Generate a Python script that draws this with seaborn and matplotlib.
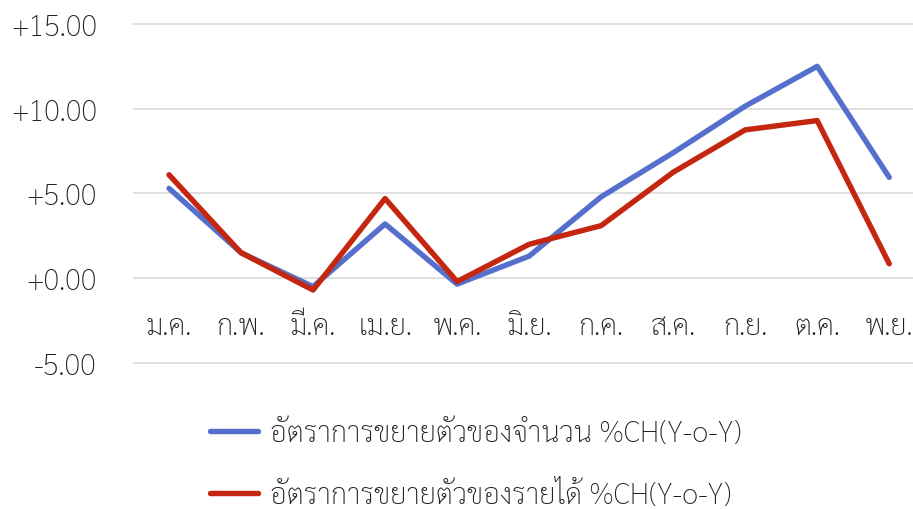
import matplotlib
matplotlib.use("Agg")
import matplotlib.pyplot as plt
from matplotlib.ticker import FuncFormatter
import pandas as pd
import seaborn as sns

# --------------------------------------------------------------------------- #
# Data
# --------------------------------------------------------------------------- #
months = ["ม.ค.", "ก.พ.", "มี.ค.", "เม.ย.", "พ.ค.", "มิ.ย.",
          "ก.ค.", "ส.ค.", "ก.ย.", "ต.ค.", "พ.ย."]
count_growth = [5.3, 1.5, -0.5, 3.2, -0.35, 1.3, 4.8, 7.4, 10.15, 12.5, 5.95]
income_growth = [6.1, 1.5, -0.7, 4.7, -0.2, 2.0, 3.1, 6.25, 8.75, 9.3, 0.85]
series_names = ["อัตราการขยายตัวของจำนวน %CH(Y-o-Y)",
                "อัตราการขยายตัวของรายได้ %CH(Y-o-Y)"]
y_ticks = [-5, 0, 5, 10, 15]

colors = ["#5470CC", "#C4260F"]

df = pd.DataFrame({
    "month": months * 2,
    "x": list(range(len(months))) * 2,
    "value": count_growth + income_growth,
    "series": [series_names[0]] * len(months) + [series_names[1]] * len(months),
})

# --------------------------------------------------------------------------- #
# Plot
# --------------------------------------------------------------------------- #
sns.set_theme(style="white")
plt.rcParams["font.family"] = ["Sarabun", "DejaVu Sans"]
plt.rcParams["font.weight"] = "light"

FS = 21
LW = 3.9

fig = plt.figure(figsize=(9.13, 5.10), dpi=100)
ax = fig.add_axes([133 / 913, 0.2765, 1 - 133 / 913, 0.961 - 0.2765])

sns.lineplot(data=df, x="x", y="value", hue="series", palette=colors,
             linewidth=LW, ax=ax, legend=False, sort=False)

ax.set_xlim(-0.5, 10.33)
ax.set_ylim(-5.3, 15.3)
ax.set_yticks(y_ticks)
ax.yaxis.set_major_formatter(FuncFormatter(lambda v, _: f"{v:+.2f}"))
ax.set_xticks(range(len(months)))
ax.set_xticklabels(months)

ax.grid(axis="y", color="#D9D9D9", linewidth=1.2)
ax.set_axisbelow(True)
for s in ax.spines.values():
    s.set_visible(False)
ax.spines["bottom"].set_position(("data", 0))
ax.tick_params(axis="y", length=0, pad=26, labelsize=FS, labelcolor="#222222")
ax.tick_params(axis="x", length=0, pad=24, labelsize=FS, labelcolor="#222222")
ax.set_xlabel("")
ax.set_ylabel("")

handles = [plt.Line2D([], [], color=c, linewidth=LW) for c in colors]
fig.legend(handles, series_names, loc="upper left",
           bbox_to_anchor=(210 / 913, 1 - 420 / 510), frameon=False,
           borderpad=0, borderaxespad=0,
           fontsize=FS, handlelength=1.65, handletextpad=0.4, labelspacing=1.1,
           labelcolor="#222222")

fig.savefig("out.png", dpi=100)
